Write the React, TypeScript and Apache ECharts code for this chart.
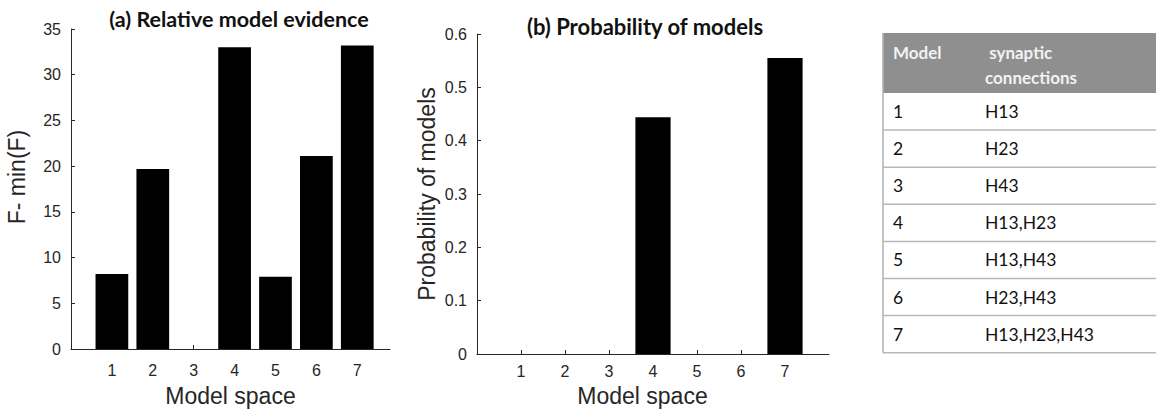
import React, { useEffect, useRef } from "react";
import * as echarts from "echarts";

const models = [1, 2, 3, 4, 5, 6, 7];
const evidence = [8.2, 19.7, 0, 33.0, 7.9, 21.1, 33.2];
const probability = [0, 0, 0, 0.444, 0, 0, 0.555];
const connections = ["H13", "H23", "H43", "H13,H23", "H13,H43", "H23,H43", "H13,H23,H43"];
const tableHeader = ["Model", " synaptic\nconnections"];
const titleA = "(a) Relative model evidence";
const titleB = "(b) Probability of models";
const xName = "Model space";
const yNameA = "F- min(F)";
const yNameB = "Probability of models";

const AX = "#262626";
const AXFONT = "Liberation Sans, Arial, sans-serif";
const TFONT = "Lato, 'Open Sans', sans-serif";

export default function App() {
  const ref = useRef<HTMLDivElement>(null);
  useEffect(() => {
    if (!ref.current) return;
    const chart = echarts.init(ref.current, undefined, { renderer: "svg" });

    const xAxisBase = (max: number, gap: number, nameGap: number, namePad: number[]) => ({
      type: "value",
      min: 0,
      max,
      interval: 1,
      name: xName,
      nameLocation: "middle",
      nameGap,
      nameTextStyle: { fontFamily: AXFONT, fontSize: 23, color: AX, padding: namePad },
      axisLine: { show: true, lineStyle: { color: AX, width: 1 } },
      axisTick: { show: true, inside: true, length: 4, lineStyle: { color: AX }, customValues: models },
      axisLabel: { show: true, margin: gap, fontFamily: AXFONT, fontSize: 16, color: AX, customValues: models },
      splitLine: { show: false },
    });
    const yAxisBase = (max: number, interval: number, name: string, nameGap: number, namePad: number[]) => ({
      type: "value",
      min: 0,
      max,
      interval,
      name,
      nameLocation: "middle",
      nameGap,
      nameTextStyle: { fontFamily: AXFONT, fontSize: 23, color: AX, padding: namePad },
      axisLine: { show: true, lineStyle: { color: AX, width: 1 } },
      axisTick: { show: true, inside: true, length: 4, lineStyle: { color: AX } },
      axisLabel: { show: true, margin: 10, fontFamily: AXFONT, fontSize: 16, color: AX },
      splitLine: { show: false },
    });

    const tableLeft = 883;
    const tableRight = 1156;
    const headTop = 33;
    const headBottom = 93;
    const rowH = 37.1;
    const col1 = 893;
    const col2 = 985;
    const graphics: any[] = [];
    graphics.push({
      type: "rect",
      shape: { x: tableLeft, y: headTop, width: tableRight - tableLeft, height: headBottom - headTop },
      style: { fill: "#8f8f8f" },
    });
    graphics.push({
      type: "text",
      x: col1,
      y: 52,
      style: { text: tableHeader[0], fill: "#f2f2f2", font: `bold 17px ${TFONT}`, verticalAlign: "middle" },
    });
    graphics.push({
      type: "text",
      x: col2,
      y: 65,
      style: { text: tableHeader[1], fill: "#f2f2f2", font: `bold 17px ${TFONT}`, verticalAlign: "middle", lineHeight: 25 },
    });
    models.forEach((m, i) => {
      const top = headBottom + i * rowH;
      graphics.push({
        type: "line",
        shape: { x1: tableLeft, y1: top + rowH, x2: tableRight, y2: top + rowH },
        style: { stroke: "#b8b8b8", lineWidth: 1.5 },
      });
      graphics.push({
        type: "text",
        x: col1,
        y: top + rowH / 2,
        style: { text: String(m), fill: "#111", font: `17.5px ${TFONT}`, verticalAlign: "middle" },
      });
      graphics.push({
        type: "text",
        x: col2,
        y: top + rowH / 2,
        style: { text: connections[i], fill: "#111", font: `17.5px ${TFONT}`, verticalAlign: "middle" },
      });
    });
    graphics.push({
      type: "line",
      shape: { x1: tableLeft, y1: headTop, x2: tableLeft, y2: headBottom + 7 * rowH },
      style: { stroke: "#b0b0b0", lineWidth: 1.5 },
    });

    chart.setOption({
      animation: false,
      backgroundColor: "#ffffff",
      title: [
        {
          text: titleA,
          left: 239,
          top: 8,
          textAlign: "center",
          textStyle: { fontFamily: TFONT, fontWeight: "bold", fontSize: 21.5, color: "#111" },
          padding: 0,
        },
        {
          text: titleB,
          left: 645,
          top: 15,
          textAlign: "center",
          textStyle: { fontFamily: TFONT, fontWeight: "bold", fontSize: 22, color: "#111" },
          padding: 0,
        },
      ],
      grid: [
        { left: 71, top: 29, width: 319, height: 328, containLabel: false },
        { left: 477, top: 34, width: 352, height: 320, containLabel: false },
      ],
      xAxis: [
        { ...xAxisBase(7.8, 13, 35, [0, 0, 0, 0]), gridIndex: 0 },
        { ...xAxisBase(8, 9, 30, [0, 21, 0, 0]), gridIndex: 1 },
      ],
      yAxis: [
        { ...yAxisBase(35, 5, yNameA, 43, [0, 0, 0, 24]), gridIndex: 0 },
        { ...yAxisBase(0.6, 0.1, yNameB, 39, [0, 0, 0, 0]), gridIndex: 1 },
      ],
      series: [
        {
          type: "bar",
          xAxisIndex: 0,
          yAxisIndex: 0,
          data: models.map((m, i) => [m, evidence[i]]),
          barWidth: "80%",
          itemStyle: { color: "#000", borderWidth: 0 },
        },
        {
          type: "bar",
          xAxisIndex: 1,
          yAxisIndex: 1,
          data: models.map((m, i) => [m, probability[i]]),
          barWidth: "80%",
          itemStyle: { color: "#000", borderWidth: 0 },
        },
      ],
      graphic: graphics,
    });
    return () => chart.dispose();
  }, []);
  return (
    <div
      ref={ref}
      style={{ position: "absolute", left: 0, top: 0, width: 1156, height: 412 }}
    />
  );
}
